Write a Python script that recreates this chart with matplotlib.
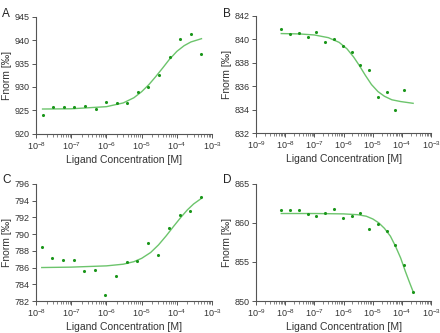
import numpy as np
import matplotlib.pyplot as plt
from matplotlib.ticker import LogLocator, NullFormatter

plt.rcParams['font.family'] = ['Liberation Sans', 'DejaVu Sans']

# ligand concentrations [M] (2-fold dilution series)
conc_a = [1.53e-8, 3.05e-8, 6.1e-8, 1.22e-7, 2.44e-7, 4.88e-7, 9.77e-7, 1.95e-6,
          3.91e-6, 7.81e-6, 1.56e-5, 3.13e-5, 6.25e-5, 1.25e-4, 2.5e-4, 5.0e-4]
fnorm_a = [924.1, 925.8, 925.7, 925.7, 926.0, 925.4, 926.8, 926.5,
           926.5, 928.9, 929.9, 932.5, 936.3, 940.2, 941.2, 937.1]
fit_x_a = [1.53e-8, 1e-7, 1e-6, 3e-6, 6e-6, 1e-5, 1.6e-5, 2.5e-5, 4e-5, 6e-5, 1e-4, 1.6e-4, 2.5e-4, 5e-4]
fit_y_a = [925.3, 925.35, 925.8, 926.6, 927.7, 929.0, 930.5, 932.2, 934.1, 935.8, 937.6, 938.8, 939.6, 940.3]

conc_b = [7.3e-9, 1.46e-8, 2.92e-8, 5.84e-8, 1.17e-7, 2.34e-7, 4.67e-7, 9.34e-7,
          1.87e-6, 3.74e-6, 7.48e-6, 1.5e-5, 2.99e-5, 5.98e-5, 1.2e-4]
fnorm_b = [840.86, 840.43, 840.54, 840.2, 840.66, 839.74, 840.03, 839.43,
           838.97, 837.83, 837.4, 835.06, 835.49, 833.94, 835.66]
fit_x_b = [7.3e-9, 3e-8, 1e-7, 3e-7, 7e-7, 1.3e-6, 2.2e-6, 3.5e-6, 5.5e-6, 9e-6, 1.5e-5, 2.5e-5, 4.5e-5, 9e-5, 2.4e-4]
fit_y_b = [840.5, 840.47, 840.38, 840.15, 839.75, 839.2, 838.5, 837.75, 836.95, 836.15, 835.55, 835.15, 834.85, 834.7, 834.55]

conc_c = [1.45e-8, 2.9e-8, 5.8e-8, 1.16e-7, 2.32e-7, 4.64e-7, 9.28e-7, 1.86e-6,
          3.71e-6, 7.42e-6, 1.48e-5, 2.97e-5, 5.94e-5, 1.19e-4, 2.38e-4, 4.75e-4]
fnorm_c = [788.4, 787.1, 786.96, 786.96, 785.56, 785.68, 782.68, 785.04,
           786.68, 786.76, 788.96, 787.48, 790.76, 792.24, 792.76, 794.4]
fit_x_c = [1.45e-8, 1e-7, 1e-6, 3e-6, 6e-6, 1e-5, 1.8e-5, 3e-5, 5e-5, 8e-5, 1.3e-4, 2e-4, 3e-4, 4.75e-4]
fit_y_c = [786.0, 786.05, 786.2, 786.4, 786.7, 787.1, 787.8, 788.7, 789.8, 790.9, 792.0, 792.9, 793.6, 794.2]

conc_d = [7.3e-9, 1.46e-8, 2.92e-8, 5.84e-8, 1.17e-7, 2.34e-7, 4.67e-7, 9.34e-7,
          1.87e-6, 3.74e-6, 7.48e-6, 1.5e-5, 2.99e-5, 5.98e-5, 1.2e-4, 2.4e-4]
fnorm_d = [861.68, 861.7, 861.6, 861.2, 860.9, 861.3, 861.8, 860.6,
           860.9, 861.3, 859.2, 859.8, 859.0, 857.2, 854.6, 851.1]
fit_x_d = [7.3e-9, 1e-7, 1e-6, 3e-6, 6e-6, 1e-5, 1.6e-5, 2.5e-5, 4e-5, 6e-5, 9e-5, 1.3e-4, 1.8e-4, 2.4e-4]
fit_y_d = [861.2, 861.2, 861.15, 861.05, 860.85, 860.5, 860.0, 859.3, 858.3, 857.0, 855.5, 853.8, 852.4, 851.2]

panels = [
    ('A', conc_a, fnorm_a, fit_x_a, fit_y_a, (1e-8, 1e-3), (920, 945), 5),
    ('B', conc_b, fnorm_b, fit_x_b, fit_y_b, (1e-9, 1e-3), (832, 842), 2),
    ('C', conc_c, fnorm_c, fit_x_c, fit_y_c, (1e-8, 1e-3), (782, 796), 2),
    ('D', conc_d, fnorm_d, fit_x_d, fit_y_d, (1e-9, 1e-3), (850, 865), 5),
]
rects = [
    [0.082, 0.598, 0.400, 0.352],
    [0.582, 0.600, 0.398, 0.352],
    [0.082, 0.096, 0.400, 0.352],
    [0.582, 0.096, 0.398, 0.352],
]
letter_pos = [(0.005, 0.975), (0.507, 0.975), (0.005, 0.478), (0.507, 0.478)]

grey = '#555555'
fig = plt.figure(figsize=(4.4, 3.33), dpi=100)

for (letter, cx, cy, fx, fy, xl, yl, ystep), r, lp in zip(panels, rects, letter_pos):
    ax = fig.add_axes(r)
    ax.plot(fx, fy, color='#6cc46c', lw=1.0, zorder=2)
    ax.scatter(cx, cy, s=5, color='#1a961a', zorder=3, linewidths=0)
    ax.set_xscale('log')
    ax.set_xlim(*xl)
    ax.set_ylim(*yl)
    ax.set_yticks(np.arange(yl[0], yl[1] + 0.1, ystep))
    ax.xaxis.set_minor_locator(LogLocator(base=10, subs=np.arange(2, 10), numticks=20))
    ax.xaxis.set_minor_formatter(NullFormatter())
    for s in ['top', 'right']:
        ax.spines[s].set_visible(False)
    for s in ['left', 'bottom']:
        ax.spines[s].set_color(grey)
        ax.spines[s].set_linewidth(0.8)
    ax.tick_params(axis='both', which='major', labelsize=6.5, colors=grey,
                   labelcolor='#333333', length=3, width=0.7, pad=1.5)
    ax.tick_params(axis='x', which='minor', colors=grey, length=1.8, width=0.5)
    ax.set_xlabel('Ligand Concentration [M]', fontsize=7.5, color='#333333', labelpad=2)
    ax.set_ylabel('Fnorm [‰]', fontsize=7.5, color='#333333', labelpad=2)
    fig.text(lp[0], lp[1], letter, fontsize=8.5, color='#222222', va='top', ha='left')

fig.savefig('out.png', dpi=100)
